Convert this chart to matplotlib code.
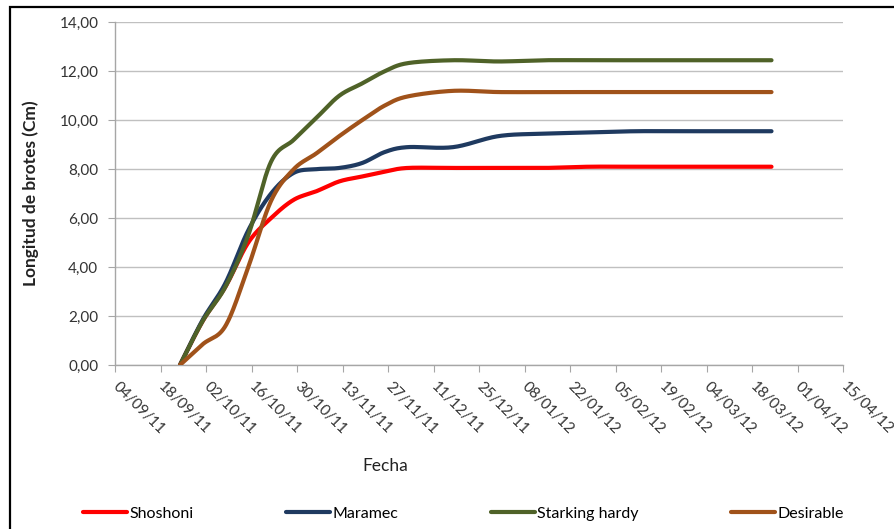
import numpy as np
import pandas as pd
import matplotlib
matplotlib.use("Agg")
import matplotlib.pyplot as plt
import matplotlib.dates as mdates
from matplotlib.patches import Rectangle
from matplotlib.ticker import FuncFormatter

# Fechas de medición
fechas = ["24/09/11", "01/10/11", "08/10/11", "15/10/11", "22/10/11", "29/10/11",
          "05/11/11", "12/11/11", "19/11/11", "26/11/11", "03/12/11", "17/12/11",
          "31/12/11", "14/01/12", "28/01/12", "11/02/12", "25/02/12", "10/03/12",
          "24/03/12"]

# Longitud de brotes (cm) por variedad
shoshoni = [0.0, 1.8, 3.2, 5.0, 6.0, 6.75, 7.1, 7.5, 7.7, 7.9, 8.05, 8.05,
            8.05, 8.05, 8.1, 8.1, 8.1, 8.1, 8.1]
maramec = [0.0, 1.85, 3.35, 5.5, 7.0, 7.85, 8.0, 8.05, 8.25, 8.7, 8.9, 8.9,
           9.35, 9.45, 9.5, 9.55, 9.55, 9.55, 9.55]
starking = [0.0, 1.8, 3.2, 5.3, 8.3, 9.2, 10.1, 11.0, 11.5, 12.0, 12.33, 12.45,
            12.4, 12.45, 12.45, 12.45, 12.45, 12.45, 12.45]
desirable = [0.0, 0.85, 1.6, 4.0, 6.7, 8.0, 8.65, 9.35, 10.0, 10.6, 10.97, 11.2,
             11.15, 11.15, 11.15, 11.15, 11.15, 11.15, 11.15]

series = [("Shoshoni", shoshoni, "#FF0000"),
          ("Maramec", maramec, "#1F3A60"),
          ("Starking hardy", starking, "#4F6228"),
          ("Desirable", desirable, "#A0521A")]

x_ini, x_fin = "04/09/11", "15/04/12"
y_max, y_paso = 14, 2

plt.rcParams['font.family'] = ['Lato', 'DejaVu Sans']

fig = plt.figure(figsize=(8.95, 5.29), dpi=100)
ax = fig.add_axes([115 / 895, 1 - 365 / 529, (843 - 115) / 895, (365 - 22.3) / 529])

t = mdates.date2num(pd.to_datetime(fechas, format="%d/%m/%y"))
t0 = mdates.date2num(pd.to_datetime(x_ini, format="%d/%m/%y"))
t1 = mdates.date2num(pd.to_datetime(x_fin, format="%d/%m/%y"))

# scale factors so the smoothing works in screen proportions
ax_w = (843 - 115)
ax_h = (365 - 22.3)
sx = ax_w / (t1 - t0)
sy = ax_h / y_max


def suavizar(xs, ys, n=30):
    """Bezier smoothing through every point (Catmull-Rom style)."""
    P = np.column_stack([np.asarray(xs) * sx, np.asarray(ys) * sy])
    out = []
    for i in range(len(P) - 1):
        p0 = P[i - 1] if i > 0 else P[i]
        p1, p2 = P[i], P[i + 1]
        p3 = P[i + 2] if i + 2 < len(P) else P[i + 1]
        c1 = p1 + (p2 - p0) / 6.0
        c2 = p2 - (p3 - p1) / 6.0
        u = np.linspace(0, 1, n)[:, None]
        seg = ((1 - u) ** 3) * p1 + 3 * ((1 - u) ** 2) * u * c1 + 3 * (1 - u) * u ** 2 * c2 + u ** 3 * p2
        out.append(seg if i == 0 else seg[1:])
    S = np.vstack(out)
    return S[:, 0] / sx, S[:, 1] / sy


for nombre, vals, color in series:
    xs, ys = suavizar(t, vals)
    ax.plot(xs, ys, color=color, lw=3.0, label=nombre, solid_capstyle='round', zorder=3)

ax.set_xlim(t0, t1)
ax.set_ylim(0, y_max)
ax.set_xticks(np.arange(t0, t1 + 1, 14))
ax.xaxis.set_major_formatter(mdates.DateFormatter("%d/%m/%y"))
ax.set_yticks(np.arange(0, y_max + 0.1, y_paso))
ax.yaxis.set_major_formatter(FuncFormatter(lambda v, p: f"{v:.2f}".replace(".", ",")))

ax.grid(axis='y', color='#C0C0C0', lw=1.0)
ax.set_axisbelow(True)
for s in ['top', 'right']:
    ax.spines[s].set_visible(False)
for s in ['left', 'bottom']:
    ax.spines[s].set_color('#A6A6A6')
    ax.spines[s].set_linewidth(1.0)
ax.tick_params(axis='both', direction='out', length=5, color='#A6A6A6', labelsize=11,
               labelcolor='#333333')
ax.tick_params(axis='y', pad=7)
ax.tick_params(axis='x', pad=9)
for lab in ax.get_xticklabels():
    lab.set_rotation(-45)
    lab.set_ha('left')
    lab.set_va('center')
    lab.set_rotation_mode('anchor')

ax.set_ylabel("Longitud de brotes (Cm)", fontsize=12.5, fontweight='bold', color='#222222')
ax.yaxis.set_label_coords(-0.104, 0.5)
fig.text(385 / 895, 1 - 466 / 529, "Fecha", fontsize=12.5, ha='center', va='center',
         color='#222222')

fig.legend(loc='center', bbox_to_anchor=(0.518, 1 - 514 / 529), ncol=4, frameon=False,
           fontsize=11.5, handlelength=2.75, handletextpad=0.15, columnspacing=5.8)

# outer frame of the chart area
fig.patches.append(Rectangle((10 / 895, -0.2), 1.5, 1 - 7 / 529 + 0.2,
                             transform=fig.transFigure, fill=False,
                             edgecolor='black', lw=1.6, zorder=10))

fig.savefig("out.png", dpi=100)
